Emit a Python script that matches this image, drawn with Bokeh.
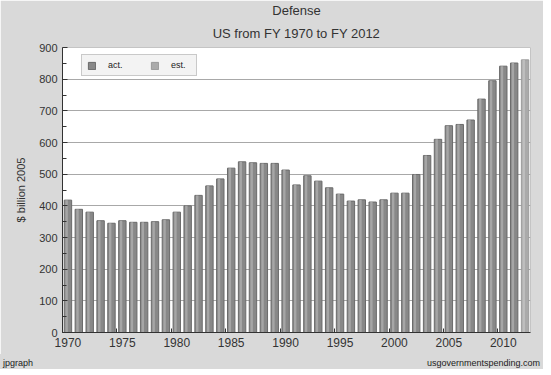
from bokeh.plotting import figure
from bokeh.models import (ColumnDataSource, Range1d, LinearAxis, FixedTicker, Title,
                          Legend, LegendItem, CustomJSTickFormatter, Div)
from bokeh.layouts import column
from bokeh.transform import dodge
from bokeh.embed import file_html
from bokeh.resources import INLINE

# ---- data ----
act_years = list(range(1970, 2012))
act_values = [418, 389, 380, 353, 345, 353, 348, 348, 350, 356,
              380, 400, 433, 463, 485, 519, 539, 536, 534, 534,
              513, 466, 495, 478, 457, 437, 415, 419, 412, 419,
              440, 440, 499, 559, 610, 653, 657, 671, 737, 795,
              841, 851]
est_years = [2012]
est_values = [861]
x_tick_labels = [1970, 1975, 1980, 1985, 1990, 1995, 2000, 2005, 2010]
y_ticks = [0, 100, 200, 300, 400, 500, 600, 700, 800, 900]
footer_left = "jpgraph"
footer_right = "usgovernmentspending.com"

FONT = "Liberation Sans"
TXT = "#333333"
BG = "#d9d9d9"

src_act = ColumnDataSource(dict(year=act_years, val=act_values))
src_est = ColumnDataSource(dict(year=est_years, val=est_values))

p = figure(frame_width=468, frame_height=285, output_backend="svg", toolbar_location=None,
           x_range=Range1d(1969.5, 2012.5), y_range=Range1d(0, 900),
           min_border_left=62, min_border_right=13, min_border_top=47, min_border_bottom=22,
           background_fill_color="white", border_fill_color=BG, x_axis_type=None)
p.outline_line_color = "#c4c4c4"

# titles
p.add_layout(Title(text="US from FY 1970 to FY 2012", align="center", text_font=FONT,
                   text_font_size="13px", text_font_style="normal", text_color=TXT,
                   standoff=13, offset=0), "above")
p.add_layout(Title(text="Defense", align="center", text_font=FONT,
                   text_font_size="13px", text_font_style="normal", text_color=TXT,
                   text_line_height=0.7, standoff=0, offset=0), "above")

# bars
base_act = p.vbar(x="year", top="val", width=0.68, source=src_act,
                  fill_color="#888888", line_color="#6a6a6a", line_width=1)
p.vbar(x=dodge("year", -0.12, range=p.x_range), top="val", width=0.22, source=src_act,
       fill_color="#a6a6a6", line_color=None)
base_est = p.vbar(x="year", top="val", width=0.68, source=src_est,
                  fill_color="#aaaaaa", line_color="#9a9a9a", line_width=1)
p.vbar(x=dodge("year", -0.12, range=p.x_range), top="val", width=0.22, source=src_est,
       fill_color="#bebebe", line_color=None)

# y axis
ya = p.yaxis[0]
ya.ticker = FixedTicker(ticks=y_ticks, minor_ticks=[v + 50 for v in y_ticks[:-1]])
ya.major_tick_in = 5
ya.major_tick_out = 0
ya.minor_tick_in = 4
ya.minor_tick_out = 0
ya.major_tick_line_color = "#333333"
ya.minor_tick_line_color = "#333333"
ya.axis_line_color = "#333333"
ya.major_label_text_font = FONT
ya.major_label_text_font_size = "11px"
ya.major_label_text_color = TXT
ya.major_label_standoff = 5
ya.axis_label = "$ billion 2005"
ya.axis_label_text_font = FONT
ya.axis_label_text_font_size = "11px"
ya.axis_label_text_font_style = "normal"
ya.axis_label_text_color = TXT
ya.axis_label_standoff = 9

# x axis: ticks at slot boundaries, labels at bar centers
xa_ticks = LinearAxis(ticker=FixedTicker(ticks=[y - 0.5 for y in x_tick_labels], minor_ticks=[]),
                      formatter=CustomJSTickFormatter(code="return ''"),
                      major_tick_in=4, major_tick_out=0, minor_tick_in=0, minor_tick_out=0,
                      axis_line_color="#333333", major_tick_line_color="#333333",
                      major_label_text_font_size="0px", major_label_standoff=0)
p.add_layout(xa_ticks, "below")
xa_lab = LinearAxis(ticker=FixedTicker(ticks=x_tick_labels, minor_ticks=[]),
                    axis_line_color=None, major_tick_line_color=None, minor_tick_line_color=None,
                    major_tick_in=0, major_tick_out=0,
                    major_label_text_font=FONT, major_label_text_font_size="12px",
                    major_label_text_color=TXT, major_label_standoff=5)
p.add_layout(xa_lab, "below")

# grid
p.xgrid.grid_line_color = None
p.ygrid.ticker = FixedTicker(ticks=y_ticks[1:])
p.ygrid.grid_line_color = "#a8a8a8"
p.ygrid.grid_line_width = 1

legend = Legend(items=[LegendItem(label="act.", renderers=[base_act]),
                       LegendItem(label="est.", renderers=[base_est])],
                orientation="horizontal", location=(19, 256),
                label_text_font=FONT, label_text_font_size="9px", label_text_color="#222222",
                glyph_width=9, glyph_height=9, label_standoff=12, spacing=22,
                padding=5, margin=0, background_fill_color="#f2f2f2",
                border_line_color="#a0a0a0", label_height=9)
p.add_layout(legend, "center")

# footer strip
footer = Div(width=543, height=13, margin=0,
             text=(f'<div style="display:flex;justify-content:space-between;align-items:flex-end;'
                   f'box-sizing:border-box;width:543px;height:13px;padding:0 3px 1px 3px;'
                   f'background:{BG};font-family:\'{FONT}\';font-size:9px;line-height:9px;'
                   f'color:#222222;"><span>{footer_left}</span><span>{footer_right}</span></div>'),
             styles={"background-color": BG})

layout = column(p, footer, spacing=0)

open("out.html", "w").write(file_html(layout, INLINE))
